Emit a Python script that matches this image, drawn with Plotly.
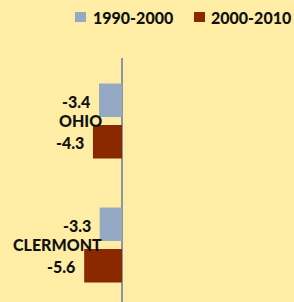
import plotly.graph_objects as go

# ---- data ----
categories = ["OHIO", "CLERMONT"]
series_names = ["1990-2000", "2000-2010"]
values_1990_2000 = [-3.4, -3.3]
values_2000_2010 = [-4.3, -5.6]
series_colors = ["#95A8C4", "#8A2900"]

# ---- style / layout constants ----
W, H = 294, 302
TOP = 58
BG = "#FFEDA6"
FONT = "Lato"
TXT = "#111111"
x_range = [-18.07, 25.48]
y_range = [1.46, -0.508]
bar_width = 0.27
offsets = [-0.302, 0.032]

fig = go.Figure()
annotations = []
series = [values_1990_2000, values_2000_2010]
font_main = dict(family=FONT, size=16, color=TXT, weight=900)
for name, vals, col, off in zip(series_names, series, series_colors, offsets):
    fig.add_trace(go.Bar(
        y=categories, x=vals, orientation="h", name=name,
        marker=dict(color=col, line=dict(width=0)),
        width=bar_width, offset=off, showlegend=False, hoverinfo="x+name",
    ))
    for i, v in enumerate(vals):
        annotations.append(dict(
            x=v, y=i + off + bar_width / 2, xref="x", yref="y",
            text=f"{v:.1f}", showarrow=False,
            xanchor="right", yanchor="middle", xshift=-7, yshift=-1,
            font=font_main,
        ))

# category labels
for i, c in enumerate(categories):
    annotations.append(dict(
        x=104 / W, y=i, xref="paper", yref="y", text=c,
        showarrow=False, xanchor="right", yanchor="middle",
        font=font_main,
    ))

# legend (swatches + labels)
shapes = []
plot_h = H - TOP
leg_sw_x = [75, 194]
leg_tx_x = [91, 209]
leg_cy = 17
for name, col, sx, tx in zip(series_names, series_colors, leg_sw_x, leg_tx_x):
    shapes.append(dict(
        type="rect", xref="paper", yref="paper",
        x0=sx / W, x1=(sx + 11) / W,
        y0=(H - (leg_cy + 5)) / plot_h, y1=(H - (leg_cy - 5)) / plot_h,
        fillcolor=col, line=dict(width=0),
    ))
    annotations.append(dict(
        x=tx / W, y=(H - leg_cy) / plot_h, xref="paper", yref="paper",
        text=name, showarrow=False, xanchor="left", yanchor="middle",
        font=font_main,
    ))

fig.update_layout(
    width=W, height=H,
    margin=dict(l=0, r=0, t=TOP, b=0, pad=0),
    paper_bgcolor=BG, plot_bgcolor=BG,
    barmode="overlay",
    xaxis=dict(range=x_range, showgrid=False, showticklabels=False,
               zeroline=True, zerolinecolor="#8C95A8", zerolinewidth=1.5,
               fixedrange=True),
    yaxis=dict(range=y_range, type="category", showgrid=False,
               showticklabels=False, zeroline=False, fixedrange=True),
    annotations=annotations, shapes=shapes,
    showlegend=False,
)

fig.write_html("out.html", config={"displayModeBar": False},
               post_script="document.body.style.margin='0';")
